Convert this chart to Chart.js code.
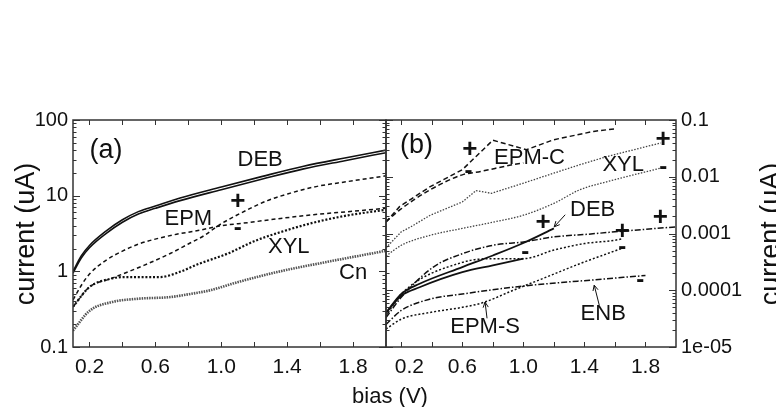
<!DOCTYPE html>
<html>
<head>
<meta charset="utf-8">
<script src="https://cdn.jsdelivr.net/npm/chart.js@4.4.1/dist/chart.umd.min.js"></script>
<style>
html, body { margin: 0; padding: 0; background: #fff; }
#wrap { position: relative; width: 776px; height: 407px; }
canvas { position: absolute; left: 0; top: 0; }
</style>
</head>
<body>
<div id="wrap">
  <canvas id="chart-a" width="776" height="407"></canvas>
  <canvas id="chart-b" width="776" height="407"></canvas>
</div>
<script>
// ---- panel (a) data : bias (V) / current (uA)
const a_deb1_v = [0.1, 0.15, 0.2, 0.3, 0.4, 0.5, 0.6, 0.75, 1.0, 1.25, 1.5, 1.75, 2.0];
const a_deb1_i = [1.0, 1.6, 2.2, 3.4, 4.8, 6.2, 7.3, 9.3, 13, 18, 24.5, 31.5, 40];
const a_deb2_v = [0.1, 0.15, 0.2, 0.3, 0.4, 0.5, 0.6, 0.75, 1.0, 1.25, 1.5, 1.75, 2.0];
const a_deb2_i = [0.95, 1.5, 2.05, 3.15, 4.45, 5.75, 6.8, 8.6, 12, 16.6, 22.6, 29, 37];
const a_epmMinus_v = [0.1, 0.15, 0.2, 0.3, 0.4, 0.5, 0.7, 0.87, 1.0, 1.16, 1.36, 1.56, 1.77, 2.0];
const a_epmMinus_i = [0.42, 0.65, 0.92, 1.4, 1.85, 2.3, 3.0, 3.5, 4.0, 4.4, 5.0, 5.6, 6.15, 6.8];
const a_epmPlus_v = [0.1, 0.2, 0.33, 0.53, 0.69, 0.8, 0.9, 0.98, 1.12, 1.28, 1.42, 1.56, 1.77, 2.0];
const a_epmPlus_i = [0.34, 0.62, 0.80, 1.2, 1.72, 2.3, 3.0, 4.0, 5.9, 8.6, 10.8, 13, 15.4, 18.3];
const a_xyl_v = [0.1, 0.2, 0.33, 0.41, 0.5, 0.63, 0.73, 0.87, 1.04, 1.2, 1.36, 1.56, 1.77, 2.0];
const a_xyl_i = [0.34, 0.62, 0.80, 0.84, 0.84, 0.84, 0.95, 1.27, 1.72, 2.5, 3.3, 4.4, 5.5, 6.5];
const a_cn_v = [0.1, 0.2, 0.33, 0.5, 0.69, 0.83, 0.93, 1.1, 1.34, 1.64, 2.0];
const a_cn_i = [0.165, 0.30, 0.39, 0.435, 0.457, 0.51, 0.56, 0.72, 0.98, 1.33, 1.87];

// ---- panel (b) data
const b_epmcPlus_v = [0.1, 0.19, 0.39, 0.6, 0.69, 0.8, 1.02, 1.2, 1.25, 1.46, 1.6];
const b_epmcPlus_i = [0.0016, 0.0030, 0.0067, 0.0133, 0.0228, 0.044, 0.030, 0.045, 0.048, 0.063, 0.070];
const b_epmcMinus_v = [0.1, 0.19, 0.39, 0.6, 0.72, 0.93, 1.0];
const b_epmcMinus_i = [0.0016, 0.0026, 0.0059, 0.0108, 0.0124, 0.0163, 0.0175];
const b_xylPlus_v = [0.1, 0.2, 0.26, 0.39, 0.6, 0.69, 0.79, 1.0, 1.2, 1.37, 1.55, 1.9];
const b_xylPlus_i = [5.6e-4, 1.07e-3, 1.3e-3, 2.1e-3, 3.6e-3, 5.7e-3, 5.1e-3, 7.7e-3, 0.0116, 0.0163, 0.0228, 0.0394];
const b_xylMinus_v = [0.1, 0.2, 0.39, 0.6, 0.81, 1.0, 1.2, 1.37, 1.55, 1.9];
const b_xylMinus_i = [4.0e-4, 6.2e-4, 9.3e-4, 1.23e-3, 1.6e-3, 2.1e-3, 3.4e-3, 5.9e-3, 8.2e-3, 0.0142];
const b_debPlus_v = [0.1, 0.2, 0.32, 0.6, 0.8, 1.0, 1.2];
const b_debPlus_i = [4.0e-5, 8.6e-5, 1.3e-4, 2.56e-4, 4.1e-4, 6.8e-4, 1.23e-3];
const b_debMinus_v = [0.1, 0.2, 0.32, 0.6, 0.8, 1.0];
const b_debMinus_i = [4.0e-5, 8.0e-5, 1.13e-4, 2.08e-4, 2.74e-4, 3.6e-4];
const b_enbPlus_v = [0.1, 0.2, 0.41, 0.6, 0.8, 1.0, 1.2, 1.42, 1.6, 2.0];
const b_enbPlus_i = [3.3e-5, 7.5e-5, 2.56e-4, 4.4e-4, 6.2e-4, 7.1e-4, 8.7e-4, 9.7e-4, 1.07e-3, 1.31e-3];
const b_enbMinus_v = [0.1, 0.2, 0.39, 0.6, 0.93, 1.15, 1.47, 1.8];
const b_enbMinus_i = [2.5e-5, 4.4e-5, 7.0e-5, 8.6e-5, 1.13e-4, 1.3e-4, 1.53e-4, 1.82e-4];
const b_epmsPlus_v = [0.1, 0.2, 0.6, 0.8, 1.0, 1.2, 1.4, 1.6, 1.65];
const b_epmsPlus_i = [3.5e-5, 8.6e-5, 3.1e-4, 3.6e-4, 3.6e-4, 5.1e-4, 6.65e-4, 7.6e-4, 8.1e-4];
const b_epmsMinus_v = [0.1, 0.2, 0.39, 0.6, 0.74, 0.93, 1.15, 1.37, 1.64];
const b_epmsMinus_i = [2.07e-5, 3.1e-5, 4.07e-5, 5.0e-5, 6.1e-5, 9.9e-5, 1.7e-4, 2.94e-4, 5.4e-4];

// ticks
const xLabels = [0.2, 0.6, 1.0, 1.4, 1.8];
const xMarks = [0.2, 0.4, 0.6, 0.8, 1.0, 1.2, 1.4, 1.6, 1.8];
const aYLabels = [0.1, 1, 10, 100];
const aYText = ["0.1", "1", "10", "100"];
const bYLabels = [1e-5, 1e-4, 1e-3, 1e-2, 1e-1];
const bYText = ["1e-05", "0.0001", "0.001", "0.01", "0.1"];

// text labels, placed in data units
const aNotes = [
    { t: "(a)", x: 0.30, y: 40, size: 27 },
    { t: "DEB", x: 1.236, y: 29.8, size: 22 },
    { t: "EPM", x: 0.80, y: 4.9, size: 22 },
    { t: "+", x: 1.10, y: 8.3, size: 26, bold: true },
    { t: "-", x: 1.10, y: 3.7, size: 24, bold: true },
    { t: "XYL", x: 1.41, y: 2.12, size: 22 },
    { t: "Cn", x: 1.80, y: 0.957, size: 22 }
];
const bNotes = [
    { t: "(b)", x: 0.30, y: 0.0354, size: 27 },
    { t: "+", x: 0.65, y: 0.0301, size: 26, bold: true },
    { t: "-", x: 0.64, y: 0.0123, size: 24, bold: true },
    { t: "EPM-C", x: 1.04, y: 0.0217, size: 22 },
    { t: "XYL", x: 1.654, y: 0.0163, size: 22 },
    { t: "+", x: 1.916, y: 0.0452, size: 26, bold: true },
    { t: "-", x: 1.916, y: 0.0145, size: 24, bold: true },
    { t: "DEB", x: 1.454, y: 0.00261, size: 22 },
    { t: "+", x: 1.13, y: 1.54e-3, size: 26, bold: true },
    { t: "-", x: 1.012, y: 4.7e-4, size: 24, bold: true },
    { t: "+", x: 1.648, y: 1.09e-3, size: 26, bold: true },
    { t: "-", x: 1.648, y: 5.8e-4, size: 24, bold: true },
    { t: "+", x: 1.897, y: 1.89e-3, size: 26, bold: true },
    { t: "-", x: 1.766, y: 1.51e-4, size: 24, bold: true },
    { t: "EPM-S", x: 0.749, y: 2.23e-5, size: 22 },
    { t: "ENB", x: 1.523, y: 3.8e-5, size: 22 }
];
const bArrows = [
    { x1: 1.274, y1: 2.14e-3, x2: 1.202, y2: 1.31e-3 },
    { x1: 0.762, y1: 3.2e-5, x2: 0.749, y2: 6.2e-5 },
    { x1: 1.497, y1: 5.5e-5, x2: 1.464, y2: 1.23e-4 }
];

const FONT = "'Liberation Sans', Arial, Helvetica, sans-serif";
const INK = "#111";

function pts(vs, is) {
    return vs.map((v, k) => ({ x: v, y: is[k] }));
}

function line(vs, is, opts) {
    return Object.assign({
        data: pts(vs, is),
        borderColor: INK,
        borderWidth: 1.5,
        pointRadius: 0,
        fill: false,
        cubicInterpolationMode: "monotone"
    }, opts);
}

function logMarks(lo, hi) {
    const out = [];
    for (let e = lo; e < hi; e++) {
        for (let k = 1; k < 10; k++) out.push({ v: k * Math.pow(10, e), major: k === 1 });
    }
    out.push({ v: Math.pow(10, hi), major: true });
    return out;
}

// frame, inward ticks, notes and arrows
const decorPlugin = {
    id: "decor",
    afterDraw(chart, args, o) {
        const { ctx, chartArea: a } = chart;
        const sx = chart.scales.x, sy = chart.scales.y;
        ctx.save();
        ctx.strokeStyle = "#333";
        ctx.lineWidth = 1.5;
        ctx.strokeRect(a.left, a.top, a.right - a.left, a.bottom - a.top);
        ctx.lineWidth = 1;
        ctx.beginPath();
        xMarks.forEach(v => {
            const px = Math.round(sx.getPixelForValue(v)) + 0.5;
            ctx.moveTo(px, a.bottom); ctx.lineTo(px, a.bottom - 5);
            ctx.moveTo(px, a.top); ctx.lineTo(px, a.top + 5);
        });
        o.marks.forEach(m => {
            const py = Math.round(sy.getPixelForValue(m.v)) + 0.5;
            const len = m.major ? 7 : 3.5;
            ctx.moveTo(a.left, py); ctx.lineTo(a.left + len, py);
            ctx.moveTo(a.right, py); ctx.lineTo(a.right - len, py);
        });
        ctx.stroke();

        ctx.fillStyle = INK;
        ctx.textAlign = "center";
        ctx.textBaseline = "middle";
        o.notes.forEach(n => {
            ctx.font = (n.bold ? "bold " : "") + n.size + "px " + FONT;
            ctx.fillText(n.t, sx.getPixelForValue(n.x), sy.getPixelForValue(n.y));
        });

        ctx.strokeStyle = INK;
        ctx.lineWidth = 1;
        (o.arrows || []).forEach(r => {
            const x1 = sx.getPixelForValue(r.x1), y1 = sy.getPixelForValue(r.y1);
            const x2 = sx.getPixelForValue(r.x2), y2 = sy.getPixelForValue(r.y2);
            const ang = Math.atan2(y2 - y1, x2 - x1);
            ctx.beginPath();
            ctx.moveTo(x1, y1); ctx.lineTo(x2, y2);
            ctx.moveTo(x2 - 6 * Math.cos(ang - 0.45), y2 - 6 * Math.sin(ang - 0.45));
            ctx.lineTo(x2, y2);
            ctx.lineTo(x2 - 6 * Math.cos(ang + 0.45), y2 - 6 * Math.sin(ang + 0.45));
            ctx.stroke();
        });

        (o.titles || []).forEach(t => {
            ctx.save();
            ctx.font = t.size + "px " + FONT;
            ctx.translate(t.x, t.y);
            ctx.rotate(t.rot);
            ctx.textAlign = "center";
            ctx.textBaseline = "alphabetic";
            ctx.fillText(t.t, 0, 0);
            ctx.restore();
        });
        ctx.restore();
    }
};

function xScale(shiftFirst) {
    return {
        type: "linear", min: 0.1, max: 2.0,
        grid: { display: false, drawTicks: false },
        border: { display: false },
        afterBuildTicks: s => { s.ticks = xLabels.map(v => ({ value: v })); },
        afterFit: s => { s.height = 60; },
        ticks: {
            font: { family: FONT, size: 21 }, color: INK, padding: 8,
            autoSkip: false, maxRotation: 0,
            // the first label of panel (b) sits a little to the right
            callback: (v, k) => (k === 0 && shiftFirst ? "\u2002 " : "") + v.toFixed(1)
        }
    };
}

new Chart(document.getElementById("chart-a"), {
    type: "line",
    data: {
        datasets: [
            line(a_deb1_v, a_deb1_i, { borderWidth: 1.6 }),
            line(a_deb2_v, a_deb2_i, { borderWidth: 1.6 }),
            line(a_epmMinus_v, a_epmMinus_i, { borderDash: [4, 3] }),
            line(a_epmPlus_v, a_epmPlus_i, { borderDash: [4, 3] }),
            line(a_xyl_v, a_xyl_i, { borderDash: [2, 1.8], borderWidth: 2.2 }),
            line(a_cn_v, a_cn_i, { borderDash: [1.5, 1], borderWidth: 2.6, borderColor: "#555" })
        ]
    },
    options: {
        responsive: false, animation: false, events: [],
        layout: { padding: { left: 0, right: 390, top: 120, bottom: 0 } },
        plugins: {
            legend: { display: false }, tooltip: { enabled: false },
            decor: {
                marks: logMarks(-1, 2), notes: aNotes,
                titles: [
                    { t: "current (uA)", x: 34, y: 234, rot: -Math.PI / 2, size: 27 },
                    { t: "bias (V)", x: 390, y: 403, rot: 0, size: 22 }
                ]
            }
        },
        scales: {
            x: xScale(false),
            y: {
                type: "logarithmic", min: 0.1, max: 100, position: "left",
                grid: { display: false, drawTicks: false },
                border: { display: false },
                afterBuildTicks: s => { s.ticks = aYLabels.map(v => ({ value: v })); },
                afterFit: s => { s.width = 73; },
                ticks: {
                    font: { family: FONT, size: 20 }, color: INK, padding: 5,
                    callback: (v, k) => aYText[k]
                }
            }
        }
    },
    plugins: [decorPlugin]
});

new Chart(document.getElementById("chart-b"), {
    type: "line",
    data: {
        datasets: [
            line(b_epmcPlus_v, b_epmcPlus_i, { borderDash: [5, 3], cubicInterpolationMode: "default", tension: 0 }),
            line(b_epmcMinus_v, b_epmcMinus_i, { borderDash: [5, 3] }),
            line(b_xylPlus_v, b_xylPlus_i, { borderDash: [1.5, 1.5], borderWidth: 1.3, borderColor: "#444", cubicInterpolationMode: "default", tension: 0 }),
            line(b_xylMinus_v, b_xylMinus_i, { borderDash: [1.5, 1.5], borderWidth: 1.3, borderColor: "#444" }),
            line(b_debPlus_v, b_debPlus_i, { borderWidth: 1.8 }),
            line(b_debMinus_v, b_debMinus_i, { borderWidth: 1.8 }),
            line(b_enbPlus_v, b_enbPlus_i, { borderDash: [6, 2, 1.5, 2] }),
            line(b_enbMinus_v, b_enbMinus_i, { borderDash: [6, 2, 1.5, 2] }),
            line(b_epmsPlus_v, b_epmsPlus_i, { borderDash: [2, 2] }),
            line(b_epmsMinus_v, b_epmsMinus_i, { borderDash: [2, 2] })
        ]
    },
    options: {
        responsive: false, animation: false, events: [],
        layout: { padding: { left: 386, right: 0, top: 120, bottom: 0 } },
        plugins: {
            legend: { display: false }, tooltip: { enabled: false },
            decor: {
                marks: logMarks(-5, -1), notes: bNotes, arrows: bArrows,
                titles: [
                    { t: "current (uA)", x: 779, y: 234, rot: -Math.PI / 2, size: 27 }
                ]
            }
        },
        scales: {
            x: xScale(true),
            y: {
                type: "logarithmic", min: 1e-5, max: 0.1, position: "right",
                grid: { display: false, drawTicks: false },
                border: { display: false },
                afterBuildTicks: s => { s.ticks = bYLabels.map(v => ({ value: v })); },
                afterFit: s => { s.width = 100; },
                ticks: {
                    font: { family: FONT, size: 20 }, color: INK, padding: 5,
                    callback: (v, k) => bYText[k]
                }
            }
        }
    },
    plugins: [decorPlugin]
});
</script>
</body>
</html>
